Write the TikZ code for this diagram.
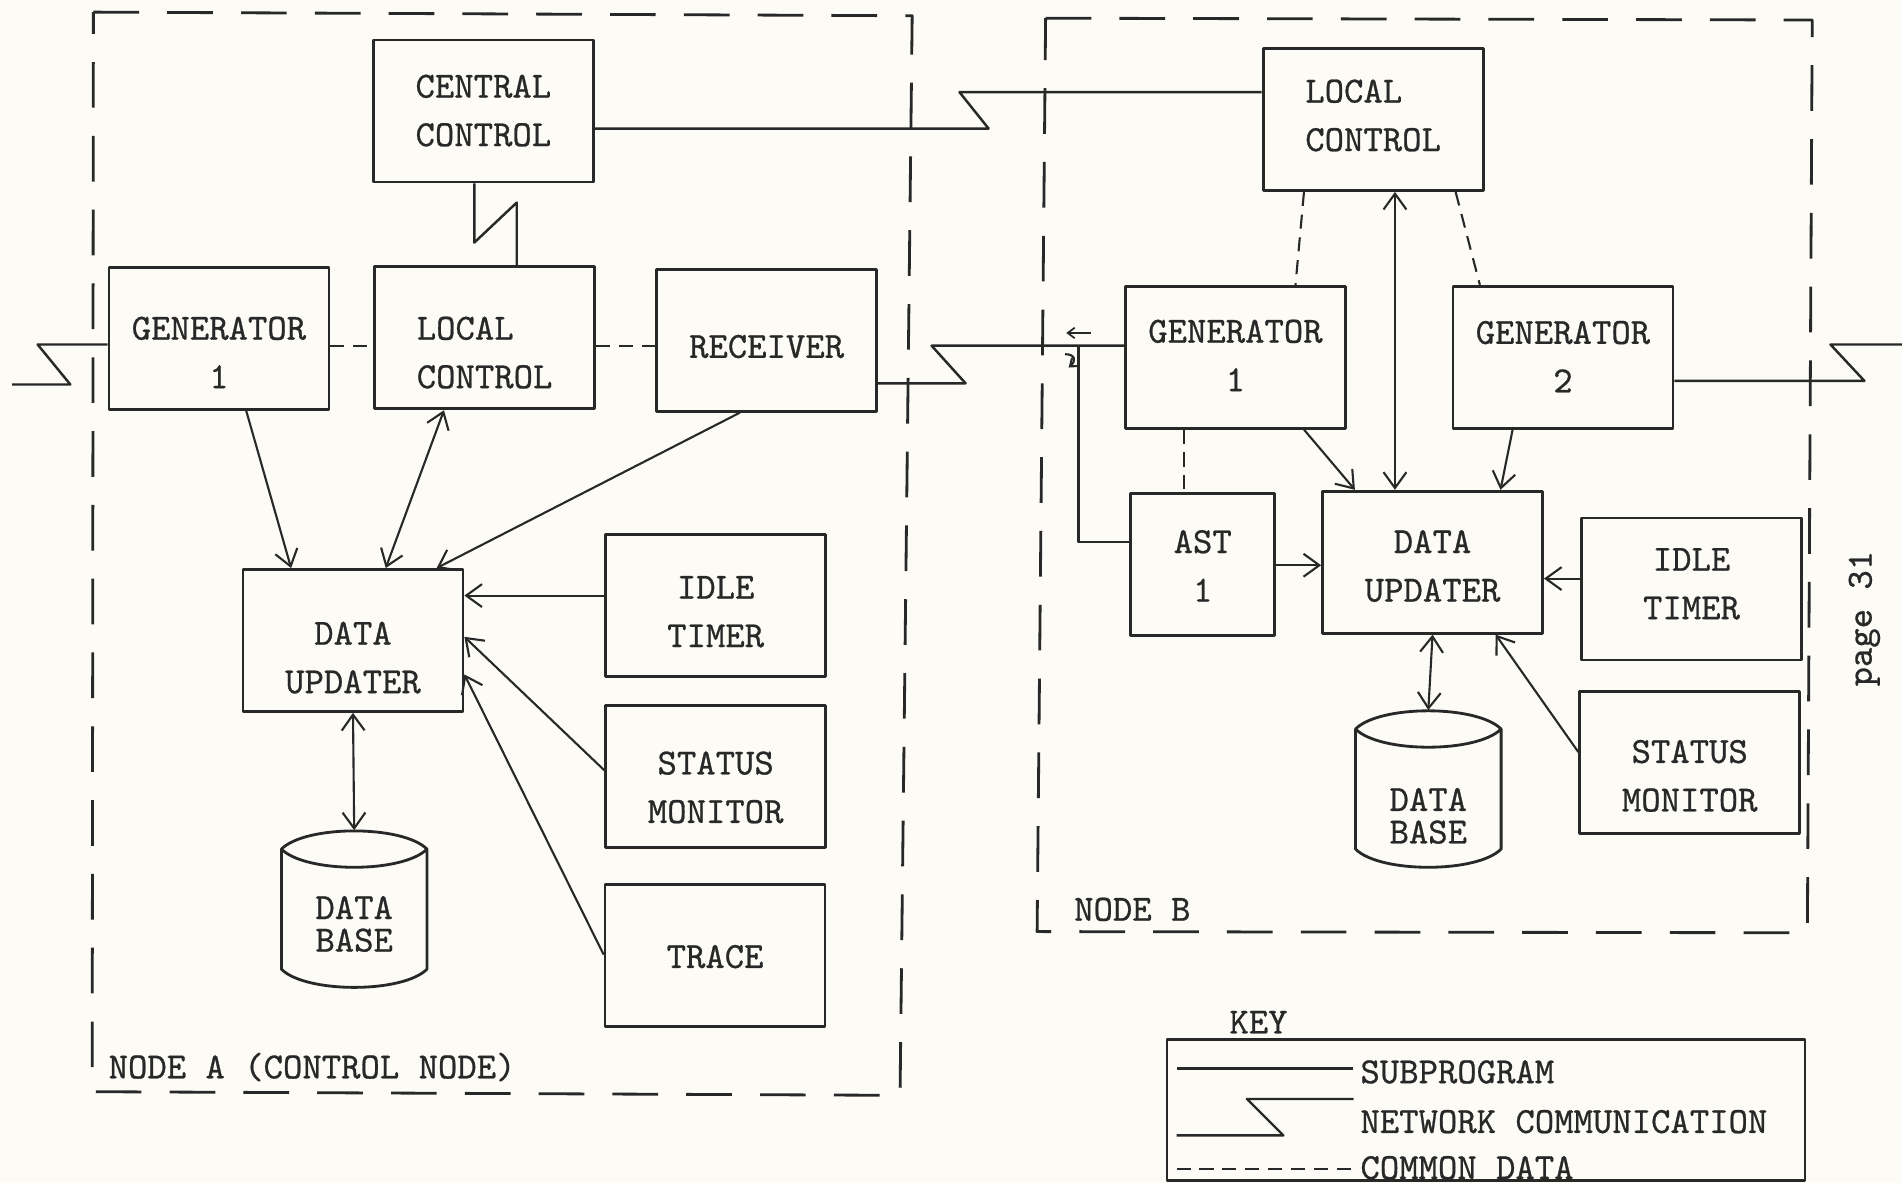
\documentclass[tikz,border=0pt]{standalone}
\usepackage{fontspec}
\usetikzlibrary{arrows.meta}

\newfontfamily\heavytt{Latin Modern Mono}[FakeBold=0.7]

\definecolor{paper}{RGB}{252,251,246}
\definecolor{ink}{RGB}{40,40,40}

\newcommand\typew{\heavytt\fontsize{10.5}{13.8}\selectfont}
% text block of a box, lowered by #1
\newcommand\boxtext[3][c]{\raisebox{#2}[0pt][0pt]{\begin{tabular}{@{}#1@{}}#3\end{tabular}}}
\newcommand\database[4]{% name, centre x, top y, text shift
  \node[dbtext] (#1) at (#2,#3+64.5) {\boxtext{#4}{DATA\\BASE}};
  \draw[boxline] (#2-60,#3+15) .. controls (#2-40,#3-5) and (#2+40,#3-5) .. (#2+60,#3+15)
    .. controls (#2+40,#3+35) and (#2-40,#3+35) .. (#2-60,#3+15)
    -- (#2-60,#3+114) .. controls (#2-40,#3+134) and (#2+40,#3+134) .. (#2+60,#3+114)
    -- (#2+60,#3+15);
}

\begin{document}
\begin{tikzpicture}[x=0.01213cm, y=-0.01213cm, ink, line join=round,
  >={Straight Barb[length=4.5pt,width=6.5pt]},
  prog/.style={draw, line width=0.8pt, minimum width=2.2cm, minimum height=1.42cm,
    inner sep=0pt, font=\typew},
  dbtext/.style={minimum width=1.46cm, minimum height=1.565cm, inner sep=0pt,
    font=\heavytt\fontsize{10.5}{9}\selectfont},
  boxline/.style={line width=0.8pt},
  sub/.style={line width=0.6pt, ->},
  bisub/.style={line width=0.6pt, <->},
  net/.style={line width=0.7pt},
  common/.style={line width=0.6pt, dash pattern=on 4pt off 2.5pt},
  region/.style={line width=0.8pt, dash pattern=on 13pt off 8pt},
  tag/.style={font=\typew, inner sep=0pt, anchor=base west}]

  \useasboundingbox (0,0) rectangle (1568,975);
  \fill[paper] (0,0) rectangle (1568,975);

  % node A
  \draw[region] (77,10) -- (752,13) -- (742,903) -- (76,900) -- cycle;
  \node[tag] (nodeA) at (89,889) {NODE A (CONTROL NODE)};

  \node[prog] (cc) at (398.5,91.5) {\boxtext{-0.108cm}{CENTRAL\\CONTROL}};
  \node[prog] (gen1A) at (180.5,279) {\boxtext{-0.254cm}{GENERATOR\\1}};
  \node[prog] (lcA) at (399.5,278.5) {\boxtext[l]{-0.26cm}{LOCAL\\CONTROL}};
  \node[prog] (recv) at (632,280.5) {\boxtext{-0.175cm}{RECEIVER}};
  \node[prog] (duA) at (291,528) {\boxtext{-0.284cm}{DATA\\UPDATER}};
  \node[prog] (idleA) at (590,499) {\boxtext{-0.175cm}{IDLE\\TIMER}};
  \node[prog] (statA) at (590,640) {\boxtext{-0.223cm}{STATUS\\MONITOR}};
  \node[prog] (trace) at (589.5,787.5) {\boxtext{-0.126cm}{TRACE}};
  \database{dbA}{292}{685}{-0.29cm}

  \draw[common] (gen1A.east |- 0,285) -- (lcA.west |- 0,285);
  \draw[common] (lcA.east |- 0,285) -- (recv.west |- 0,285);

  \draw[sub] (203,0 |- gen1A.south) -- (240,0 |- duA.north);
  \draw[bisub] (318,0 |- duA.north) -- (366,0 |- lcA.south);
  \draw[sub] (610,0 |- recv.south) -- (360,0 |- duA.north);
  \draw[sub] (idleA.west |- 0,491) -- (duA.east |- 0,491);
  \draw[sub] (statA.west |- 0,635) -- (duA.east |- 0,525);
  \draw[sub] (trace.west |- 0,787) -- (duA.east |- 0,556);
  \draw[bisub] (duA.south) -- (dbA.north);

  % node B
  \draw[region] (862,15) -- (1494,16.5) -- (1490,769) -- (855,768) -- cycle;
  \node[tag] (nodeB) at (885,759) {NODE B};

  \node[prog] (lcB) at (1132,98.5) {\boxtext[l]{-0.072cm}{LOCAL\\CONTROL}};
  \node[prog] (gen1B) at (1018.5,294.5) {\boxtext{-0.096cm}{GENERATOR\\1}};
  \node[prog] (gen2B) at (1288.5,294.5) {\boxtext{-0.108cm}{GENERATOR\\2}};
  \node[prog, minimum width=1.44cm] (ast) at (991.5,465.5) {\boxtext{-0.126cm}{AST\\1}};
  \node[prog] (duB) at (1181,463.5) {\boxtext{-0.15cm}{DATA\\UPDATER}};
  \node[prog] (idleB) at (1394.5,485.5) {\boxtext{-0.06cm}{IDLE\\TIMER}};
  \node[prog] (statB) at (1393,628.5) {\boxtext{-0.247cm}{STATUS\\MONITOR}};
  \database{dbB}{1177.5}{586}{-0.41cm}

  \draw[common] (1075,0 |- lcB.south) -- (1068,0 |- gen1B.north);
  \draw[common] (1200,0 |- lcB.south) -- (1220,0 |- gen2B.north);
  \draw[common] (976,0 |- gen1B.south) -- (976,0 |- ast.north);

  \draw[sub] (1075,0 |- gen1B.south) -- (1117,0 |- duB.north);
  \draw[bisub] (1150,0 |- lcB.south) -- (1150,0 |- duB.north);
  \draw[sub] (1247,0 |- gen2B.south) -- (1237,0 |- duB.north);
  \draw[sub] (ast.east |- 0,466) -- (duB.west |- 0,466);
  \draw[sub] (idleB.west |- 0,477) -- (duB.east |- 0,477);
  \draw[sub] (statB.west |- 0,620) -- (1233,0 |- duB.south);
  \draw[bisub] (duB.south) -- (dbB.north);

  % network links
  \coordinate (netL) at (10,317);
  \coordinate (netR) at (1568,284);
  \coordinate (tap) at (889,285);
  \draw[net] (gen1A.west |- 0,284) -- (31,284) -- (58,317) -- (netL);
  \draw[net] (391,0 |- cc.south) -- (391,200) -- (426,167) -- (426,0 |- lcA.north);
  \draw[net] (cc.east |- 0,106) -- (815,106) -- (791,76) -- (lcB.west |- 0,76);
  \draw[net] (recv.east |- 0,316) -- (796,316) -- (768,285) -- (gen1B.west |- 0,285);
  \draw[net] (tap) |- (ast.west |- 0,447);
  \draw[net] (gen2B.east |- 0,314) -- (1537,314) -- (1509,284) -- (netR);

  % pencil marks
  \draw[line width=0.5pt, -{Straight Barb[length=2pt,width=3pt]}] (899,274.5) -- (879,274.5);
  \draw[line width=0.6pt, -{Straight Barb[length=2pt,width=3pt]}] (878,292) .. controls (887,292) and (887,298) .. (881,303);

  % key
  \node[tag] (keyhead) at (1013,852) {KEY};
  \node[draw, line width=0.8pt, minimum width=6.38cm, minimum height=1.41cm, inner sep=0pt] (keybox) at (1225,915) {};
  \draw[line width=0.7pt] (970,881) -- (1115,881);
  \node[tag] (ksub) at (1121,893) {SUBPROGRAM};
  \draw[net] (970,936) -- (1058,936) -- (1028,906) -- (1116,906);
  \node[tag] (knet) at (1121,934) {NETWORK COMMUNICATION};
  \draw[common] (970,964) -- (1117,964);
  \node[tag] (kcom) at (1121,972) {COMMON DATA};

  \node[font=\typew, rotate=90, inner sep=0pt] (pg) at (1537,510) {page 31};
\end{tikzpicture}
\end{document}
